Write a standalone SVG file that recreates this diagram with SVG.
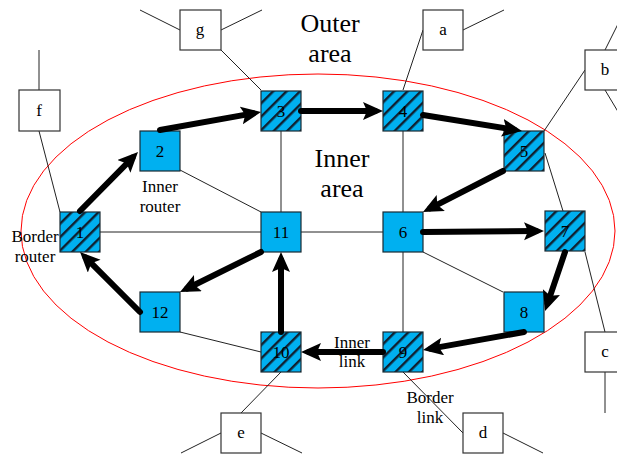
<svg xmlns="http://www.w3.org/2000/svg" width="617" height="457" viewBox="0 0 617 457" font-family="'Liberation Serif', serif">
<style>
text{font-family:'Liberation Serif',serif;fill:#000;text-anchor:middle}
.lbl{font-size:17px}
.big{font-size:26px}
.num{font-size:17px}
.thin{stroke:#222;stroke-width:1;fill:none}
.thick{stroke:#000;stroke-width:6;stroke-linecap:round;fill:none;marker-end:url(#ah)}
.inner{fill:#00B0F0;stroke:#1a2a33;stroke-width:1.2}
.border{fill:url(#hatch);stroke:#1a2a33;stroke-width:1.2}
.ext{fill:#fff;stroke:#333;stroke-width:1.2}
</style>
<defs>
<pattern id="hatch" patternUnits="userSpaceOnUse" width="9.5" height="9.5" patternTransform="rotate(45)">
<rect width="9.5" height="9.5" fill="#00B0F0"/>
<rect x="0" y="0" width="2.4" height="9.5" fill="#102030"/>
</pattern>
<marker id="ah" markerUnits="userSpaceOnUse" markerWidth="22" markerHeight="20" refX="12" refY="9" orient="auto" viewBox="0 0 22 20">
<path d="M0,0 L20,9 L0,18 L4,9 z" fill="#000"/>
</marker>
</defs>
<rect width="617" height="457" fill="#fff"/>
<ellipse cx="318" cy="231" rx="297" ry="157" fill="none" stroke="#f00" stroke-width="1"/>
<g id="links">
<line class="thin" x1="39" y1="50" x2="39" y2="90"/>
<line class="thin" x1="39" y1="131" x2="60" y2="212"/>
<line class="thin" x1="140" y1="10" x2="180" y2="30"/>
<line class="thin" x1="221" y1="30" x2="262" y2="10"/>
<line class="thin" x1="221" y1="50" x2="261" y2="90"/>
<line class="thin" x1="463" y1="30" x2="504" y2="10"/>
<line class="thin" x1="423" y1="30" x2="403" y2="90"/>
<line class="thin" x1="605" y1="50" x2="620" y2="20"/>
<line class="thin" x1="585" y1="70" x2="544" y2="131"/>
<line class="thin" x1="605" y1="90" x2="623" y2="120"/>
<line class="thin" x1="585" y1="252" x2="605" y2="332"/>
<line class="thin" x1="605" y1="372" x2="605" y2="413"/>
<line class="thin" x1="403" y1="372" x2="463" y2="433"/>
<line class="thin" x1="503" y1="433" x2="543" y2="453"/>
<line class="thin" x1="281" y1="372" x2="241" y2="413"/>
<line class="thin" x1="221" y1="433" x2="181" y2="453"/>
<line class="thin" x1="261" y1="433" x2="302" y2="453"/>
<line class="thin" x1="100" y1="232" x2="261" y2="232"/>
<line class="thin" x1="180" y1="170" x2="261" y2="212"/>
<line class="thin" x1="281" y1="131" x2="281" y2="212"/>
<line class="thin" x1="301" y1="232" x2="383" y2="232"/>
<line class="thin" x1="403" y1="131" x2="403" y2="212"/>
<line class="thin" x1="403" y1="252" x2="403" y2="332"/>
<line class="thin" x1="423" y1="252" x2="503" y2="292"/>
<line class="thin" x1="180" y1="332" x2="261" y2="352"/>
<line class="thin" x1="545" y1="153" x2="563" y2="211"/>
</g>
<g id="n1"><rect class="border" x="60" y="212" width="40" height="40"/><text class="num" x="80" y="238">1</text></g>
<g id="n2"><rect class="inner" x="140" y="131" width="40" height="40"/><text class="num" x="160" y="157">2</text></g>
<g id="n3"><rect class="border" x="261" y="91" width="40" height="40"/><text class="num" x="281" y="117">3</text></g>
<g id="n4"><rect class="border" x="383" y="91" width="40" height="40"/><text class="num" x="403" y="117">4</text></g>
<g id="n5"><rect class="border" x="504" y="131" width="40" height="40"/><text class="num" x="524" y="157">5</text></g>
<g id="n6"><rect class="inner" x="383" y="212" width="40" height="40"/><text class="num" x="403" y="238">6</text></g>
<g id="n7"><rect class="border" x="545" y="211" width="40" height="40"/><text class="num" x="565" y="237">7</text></g>
<g id="n8"><rect class="inner" x="504" y="292" width="40" height="40"/><text class="num" x="524" y="318">8</text></g>
<g id="n9"><rect class="border" x="383" y="332" width="40" height="40"/><text class="num" x="403" y="358">9</text></g>
<g id="n10"><rect class="border" x="261" y="332" width="40" height="40"/><text class="num" x="281" y="358">10</text></g>
<g id="n11"><rect class="inner" x="261" y="212" width="40" height="40"/><text class="num" x="281" y="238">11</text></g>
<g id="n12"><rect class="inner" x="140" y="292" width="40" height="40"/><text class="num" x="160" y="318">12</text></g>
<g id="ea"><rect class="ext" x="423" y="10" width="40" height="40"/><text class="num" x="443" y="35">a</text></g>
<g id="eb"><rect class="ext" x="585" y="50" width="40" height="40"/><text class="num" x="605" y="75">b</text></g>
<g id="ec"><rect class="ext" x="585" y="332" width="40" height="40"/><text class="num" x="605" y="357">c</text></g>
<g id="ed"><rect class="ext" x="463" y="413" width="40" height="40"/><text class="num" x="483" y="438">d</text></g>
<g id="ee"><rect class="ext" x="221" y="413" width="40" height="40"/><text class="num" x="241" y="438">e</text></g>
<g id="ef"><rect class="ext" x="19" y="90" width="41" height="41"/><text class="num" x="39" y="116">f</text></g>
<g id="eg"><rect class="ext" x="180" y="10" width="41" height="40"/><text class="num" x="200" y="35">g</text></g>
<g id="arrows">
<line class="thick" x1="80" y1="211" x2="132.4" y2="157.8"/>
<line class="thick" x1="160" y1="130" x2="253.1" y2="113.4"/>
<line class="thick" x1="301" y1="111" x2="375" y2="111"/>
<line class="thick" x1="423" y1="115" x2="514.1" y2="129.7"/>
<line class="thick" x1="503" y1="171" x2="430.1" y2="208.4"/>
<line class="thick" x1="423" y1="232" x2="536" y2="231.1"/>
<line class="thick" x1="565" y1="252" x2="547.6" y2="303.4"/>
<line class="thick" x1="524" y1="332" x2="430.9" y2="348.6"/>
<line class="thick" x1="383" y1="352" x2="309" y2="352"/>
<line class="thick" x1="281" y1="332" x2="281" y2="260"/>
<line class="thick" x1="261" y1="252" x2="187.2" y2="288.5"/>
<line class="thick" x1="140" y1="312" x2="85.7" y2="257.7"/>
</g>
<g id="labels">
<text class="big" x="330" y="32">Outer</text>
<text class="big" x="330" y="62">area</text>
<text class="big" x="342" y="167">Inner</text>
<text class="big" x="342" y="197">area</text>
<text class="lbl" x="160" y="192">Inner</text>
<text class="lbl" x="160" y="212">router</text>
<text class="lbl" x="35" y="242">Border</text>
<text class="lbl" x="35" y="262">router</text>
<text class="lbl" x="352" y="348">Inner</text>
<text class="lbl" x="352" y="367">link</text>
<text class="lbl" x="430" y="403">Border</text>
<text class="lbl" x="430" y="423">link</text>
</g>
</svg>
